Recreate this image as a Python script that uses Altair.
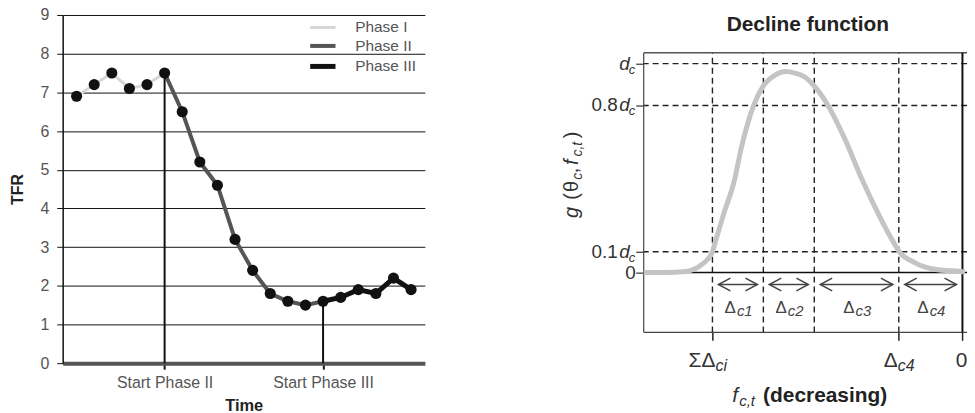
import altair as alt
import pandas as pd

FONT = "Liberation Sans"

# ---------------- TFR trajectory (left panel) ----------------
time_idx = list(range(1, 21))
tfr = [6.9, 7.2, 7.5, 7.1, 7.2, 7.5, 6.5, 5.2, 4.6, 3.2, 2.4,
       1.8, 1.6, 1.5, 1.6, 1.7, 1.9, 1.8, 2.2, 1.9]
phase_names = ["Phase I", "Phase II", "Phase III"]
phase_colors = ["#d6d6d6", "#555555", "#111111"]
phase_first = [1, 6, 15]
phase_last = [6, 15, 20]
start_labels = ["Start Phase II", "Start Phase III"]
tfr_ticks = list(range(0, 10))

# ---------------- Decline function (right panel) ----------------
delta_names = ["c1", "c2", "c3", "c4"]
delta_widths = [1.0, 1.0, 1.66, 1.25]
curve_f = [6.26, 5.83, 5.44, 5.11, 4.91, 4.85, 4.69, 4.48, 4.34, 4.21, 4.10,
           3.92, 3.68, 3.47, 3.29, 3.09, 2.90, 2.64, 2.31, 1.98, 1.65, 1.33,
           1.24, 0.94, 0.55, 0.03, -0.05]
curve_g = [0.0, 0.0, 0.005, 0.04, 0.10, 0.15, 0.28, 0.44, 0.60, 0.72, 0.80,
           0.89, 0.945, 0.962, 0.955, 0.935, 0.89, 0.80, 0.64, 0.45, 0.28, 0.135,
           0.10, 0.048, 0.016, 0.005, 0.003]
level_vals = [1.0, 0.8, 0.1]
level_prefix = ["", "0.8", "0.1"]

# ================= left panel =================
line_rows = []
for name, first, last in zip(phase_names, phase_first, phase_last):
    for t in range(first, last + 1):
        line_rows.append({"t": t, "tfr": tfr[t - 1], "phase": name})
line_df = pd.DataFrame(line_rows)
pts_df = pd.DataFrame({"t": time_idx, "tfr": tfr})
starts_df = pd.DataFrame({
    "t": phase_first[1:],
    "base": [0.0, 0.0],
    "tfr": [tfr[t - 1] for t in phase_first[1:]],
})

x_left = alt.Scale(domain=[0.21, 20.78], nice=False, zero=False)
y_left = alt.Scale(domain=[0, 9], nice=False)

label_expr = (f"datum.value == {phase_first[1]} ? '{start_labels[0]}' : "
              f"'{start_labels[1]}'")

# the axis title sits at the very bottom edge; a negative line height keeps
# its layout box short so the page keeps its size
x_axis_left = alt.Axis(
    values=phase_first[1:], labelExpr=label_expr, title=["Time", ""], grid=False,
    tickSize=6, tickWidth=2, tickColor="#111", domainColor="#555",
    domainWidth=4, labelFontSize=16, labelColor="#555", labelPadding=5,
    labelFont=FONT, titleFont=FONT, titleFontSize=16.5, titleFontWeight="bold",
    titleColor="#222", titlePadding=8, titleLineHeight=-12,
)
y_axis_left = alt.Axis(
    values=tfr_ticks, grid=True, gridColor="#111", gridWidth=1,
    domainColor="#111", domainWidth=1.5, tickColor="#111", tickSize=6,
    tickWidth=1, labelFontSize=16, labelColor="#555", labelPadding=8,
    labelFont=FONT, labelOverlap=False, title="TFR", titleFont=FONT,
    titleFontSize=16, titleFontWeight="bold", titleColor="#222",
    titlePadding=14,
)

X_L = dict(scale=x_left, axis=x_axis_left)
Y_L = dict(scale=y_left, axis=y_axis_left)

phase_lines = alt.Chart(line_df).mark_line().encode(
    x=alt.X("t:Q", **X_L),
    y=alt.Y("tfr:Q", **Y_L),
    color=alt.Color(
        "phase:N",
        scale=alt.Scale(domain=phase_names, range=phase_colors),
        legend=alt.Legend(
            title=None, orient="none", legendX=252, legendY=4, padding=0,
            symbolType="M-1.95,0L1.95,0", symbolSize=170, symbolStrokeWidth=6,
            labelFont=FONT, labelFontSize=15.5, labelColor="#555",
            labelOffset=23, rowPadding=1.1,
        ),
    ),
    strokeWidth=alt.StrokeWidth(
        "phase:N", scale=alt.Scale(domain=phase_names, range=[3, 5, 4]), legend=None
    ),
    order="t:Q",
)

start_rules = alt.Chart(starts_df).mark_rule(color="#111", strokeWidth=2).encode(
    x=alt.X("t:Q", **X_L), y=alt.Y("base:Q", **Y_L), y2="tfr:Q"
)

points = alt.Chart(pts_df).mark_circle(size=125, color="#111", opacity=1).encode(
    x=alt.X("t:Q", **X_L), y=alt.Y("tfr:Q", **Y_L)
)

left = alt.layer(phase_lines, start_rules, points).properties(width=364, height=350)

# ================= right panel =================
PX_PER_F = 51.18
PX_PER_G = 210
W_R, H_R = 325, 319                 # plot area incl. headroom for the title
F_HI = 6.26
F_LO = F_HI - W_R / PX_PER_F
G_LO, G_HI = -0.286, 1.052          # framed region
G_TOP = G_LO + H_R / PX_PER_G
gap = 6 / PX_PER_F
ARROW_Y = -0.057
LABEL_Y = -0.195

edges = [0.0]
for w in reversed(delta_widths):
    edges.append(edges[-1] + w)
sum_delta = edges[-1]
d4 = edges[1]

arrow_rows = []
for i, name in enumerate(delta_names):
    hi, lo = edges[4 - i], edges[3 - i]
    arrow_rows.append({"name": name, "a": hi - gap, "b": lo + gap, "mid": (hi + lo) / 2})
arrow_df = pd.DataFrame(arrow_rows)

f_scale = alt.Scale(domain=[F_LO, F_HI], reverse=True, nice=False, zero=False)
g_scale = alt.Scale(domain=[G_LO, G_TOP], nice=False, zero=False)

x_axis_r = alt.Axis(values=[sum_delta, d4, 0.0], labels=False, tickSize=8,
                    tickColor="#222", tickWidth=1.5, domain=False, grid=False,
                    title=None)
y_axis_r = alt.Axis(values=[0.0] + level_vals, labels=False, tickSize=8,
                    tickColor="#333", tickWidth=1.2, domain=False, grid=False,
                    title=None)
X_R = dict(scale=f_scale, axis=x_axis_r)
Y_R = dict(scale=g_scale, axis=y_axis_r)

DASH = [6, 4]
levels_df = pd.DataFrame({"g": level_vals, "prefix": level_prefix})
bounds_df = pd.DataFrame({"f": edges[1:], "lo": G_LO, "hi": G_HI})
curve_df = pd.DataFrame({"f": curve_f, "g": curve_g})
one = pd.DataFrame({"k": [0]})

h_dash = alt.Chart(levels_df).mark_rule(strokeDash=DASH, strokeWidth=1.4, color="#222").encode(
    y=alt.Y("g:Q", **Y_R)
)
v_dash = alt.Chart(bounds_df).mark_rule(strokeDash=DASH, strokeWidth=1.4, color="#222").encode(
    x=alt.X("f:Q", **X_R), y=alt.Y("lo:Q", **Y_R), y2="hi:Q"
)
# frame around the function area
frame_top = alt.Chart(one).mark_rule(color="#555", strokeWidth=1.5).encode(
    y=alt.datum(G_HI, **Y_R)
)
frame_bottom = alt.Chart(one).mark_rule(color="#444", strokeWidth=1.2).encode(
    y=alt.datum(G_LO, **Y_R)
)
frame_left = alt.Chart(one).mark_rule(color="#444", strokeWidth=1.2).encode(
    x=alt.datum(F_HI, **X_R), y=alt.datum(G_LO, **Y_R), y2=alt.datum(G_HI)
)
zero_line = alt.Chart(one).mark_rule(color="#111", strokeWidth=1.5).encode(
    y=alt.datum(0.0, **Y_R)
)
zero_f = alt.Chart(one).mark_rule(color="#111", strokeWidth=2).encode(
    x=alt.datum(0.0, **X_R), y=alt.datum(G_LO, **Y_R), y2=alt.datum(G_HI)
)

curve = alt.Chart(curve_df).mark_line(color="#c4c4c4", strokeWidth=5, interpolate="monotone").encode(
    x=alt.X("f:Q", **X_R), y=alt.Y("g:Q", **Y_R), order=alt.Order("f:Q", sort="descending")
)

arrow_lines = alt.Chart(arrow_df).mark_rule(color="#444", strokeWidth=1.5).encode(
    x=alt.X("a:Q", **X_R), x2="b:Q", y=alt.datum(ARROW_Y, **Y_R)
)
left_heads = alt.Chart(arrow_df).mark_point(
    shape="M1.5,-0.8L0,0L1.5,0.8", size=256, color="#444", strokeWidth=1.5,
    filled=False, opacity=1
).encode(x=alt.X("a:Q", **X_R), y=alt.datum(ARROW_Y, **Y_R))
right_heads = alt.Chart(arrow_df).mark_point(
    shape="M-1.5,-0.8L0,0L-1.5,0.8", size=256, color="#444", strokeWidth=1.5,
    filled=False, opacity=1
).encode(x=alt.X("b:Q", **X_R), y=alt.datum(ARROW_Y, **Y_R))

delta_main = alt.Chart(arrow_df).mark_text(
    text="Δ", font=FONT, fontSize=17, align="right", baseline="alphabetic",
    dx=-2, color="#444"
).encode(x=alt.X("mid:Q", **X_R), y=alt.datum(LABEL_Y, **Y_R))
delta_sub = alt.Chart(arrow_df).mark_text(
    font=FONT, fontSize=15, fontStyle="italic", align="left",
    baseline="alphabetic", dx=-1, dy=3, color="#444"
).encode(x=alt.X("mid:Q", **X_R), y=alt.datum(LABEL_Y, **Y_R), text="name:N")

# y tick labels: prefix, italic d, subscript c
ylab_prefix = alt.Chart(levels_df).mark_text(
    font=FONT, fontSize=19, align="right", baseline="middle", color="#333"
).encode(x=alt.value(-26), y=alt.Y("g:Q", **Y_R), text="prefix:N")
ylab_d = alt.Chart(levels_df).mark_text(
    text="d", font=FONT, fontSize=19, fontStyle="italic", align="right",
    baseline="middle", color="#333"
).encode(x=alt.value(-14), y=alt.Y("g:Q", **Y_R))
ylab_c = alt.Chart(levels_df).mark_text(
    text="c", font=FONT, fontSize=13, fontStyle="italic", align="left",
    baseline="middle", dy=6, color="#333"
).encode(x=alt.value(-15), y=alt.Y("g:Q", **Y_R))
ylab_zero = alt.Chart(one).mark_text(
    text="0", font=FONT, fontSize=19, align="right", baseline="middle", color="#333"
).encode(x=alt.value(-8), y=alt.datum(0.0, **Y_R))


def piece(text, x, y, size, style="normal", weight="normal", align="left",
          baseline="alphabetic", angle=0, color="#333"):
    return alt.Chart(one).mark_text(
        text=text, font=FONT, fontSize=size, fontStyle=style, fontWeight=weight,
        align=align, baseline=baseline, angle=angle, color=color,
    ).encode(x=alt.value(x), y=alt.value(y))


def anchored(text, f_val, dx, y, size, style="normal", align="left"):
    return alt.Chart(one).mark_text(
        text=text, font=FONT, fontSize=size, fontStyle=style, align=align,
        baseline="alphabetic", dx=dx, color="#333",
    ).encode(x=alt.datum(f_val, **X_R), y=alt.value(y))


LAB_BASE = H_R + 35
x_labels = [
    anchored("ΣΔ", sum_delta, 3, LAB_BASE, 21, align="right"),
    anchored("ci", sum_delta, 3, LAB_BASE + 4, 16, style="italic"),
    anchored("Δ", d4, -1, LAB_BASE, 21, align="right"),
    anchored("c4", d4, -1, LAB_BASE + 4, 16, style="italic"),
    anchored("0", 0.0, -1, LAB_BASE, 21, align="center"),
]

X_TITLE_BASE = H_R + 70
x_title = [
    piece("f", 89, X_TITLE_BASE, 21, style="italic"),
    piece("c,t", 96, X_TITLE_BASE + 4, 15, style="italic"),
    piece("(decreasing)", 120, X_TITLE_BASE, 21, weight="bold", color="#222"),
]

panel_title = piece("Decline function", 165, 15.7, 21, weight="bold",
                    align="center", color="#222")

# rotated y title g(θc, fc,t), read bottom to top
Y_TITLE_X = -66
FRAME_TOP_PX = (G_TOP - G_HI) * PX_PER_G
y_title_parts = [
    ("g", 166, 20, "italic", 0), ("(", 147.7, 20, "normal", 0),
    ("θ", 140, 20, "normal", 0), ("c", 127.7, 14, "italic", 1),
    (",", 121, 20, "normal", 0), ("f", 112.7, 20, "italic", 0),
    ("c,t", 104.3, 14, "italic", 1), (")", 86, 20, "normal", 0),
]
y_title = [
    piece(t, Y_TITLE_X + 4 * sub, FRAME_TOP_PX + y, s, style=st, angle=270)
    for t, y, s, st, sub in y_title_parts
]

right = alt.layer(
    h_dash, v_dash, frame_top, frame_bottom, frame_left, zero_line, zero_f,
    curve, arrow_lines, left_heads, right_heads, delta_main, delta_sub,
    ylab_prefix, ylab_d, ylab_c, ylab_zero, *x_labels, *x_title, *y_title,
    panel_title,
).properties(width=W_R, height=H_R)

chart = alt.hconcat(left, right, spacing=138).properties(
    padding={"left": 10, "top": 6, "right": 0, "bottom": 2}
).configure_view(stroke=None)

chart.save("out.html", embed_options={"renderer": "svg", "actions": False})
